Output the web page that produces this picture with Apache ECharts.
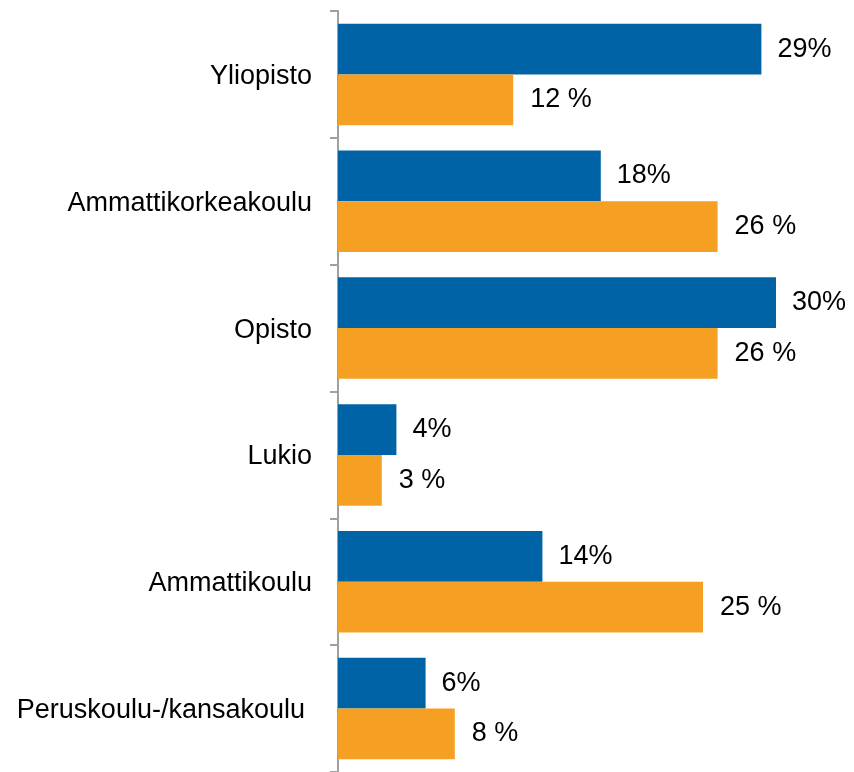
<!DOCTYPE html>
<html>
<head>
<meta charset="utf-8">
<script src="https://cdn.jsdelivr.net/npm/echarts@6/dist/echarts.min.js"></script>
<style>
  html, body { margin: 0; padding: 0; background: #ffffff; }
  #chart { width: 854px; height: 772px; }
</style>
</head>
<body>
<div id="chart"></div>
<script>
// Education level categories, top to bottom
const categories = ['Yliopisto', 'Ammattikorkeakoulu', 'Opisto', 'Lukio', 'Ammattikoulu', 'Peruskoulu-/kansakoulu'];
// Share per level (%), first group (blue) and second group (orange)
const blueValues = [29, 18, 30, 4, 14, 6];
const orangeValues = [12, 26, 26, 3, 25, 8];

const chart = echarts.init(document.getElementById('chart'), null, { renderer: 'canvas' });

const labelFont = { fontFamily: 'Liberation Sans, Arial, sans-serif', fontSize: 27, color: '#000000' };

chart.setOption({
  animation: false,
  backgroundColor: '#ffffff',
  grid: { left: 338, top: 11, width: 511, height: 764, containLabel: false },
  xAxis: {
    type: 'value', min: 0, max: 35,
    show: false
  },
  yAxis: {
    type: 'category',
    data: categories,
    inverse: true,
    axisLine: { show: true, lineStyle: { color: '#A0A0A0', width: 2 } },
    axisTick: { show: true, length: 8, lineStyle: { color: '#A0A0A0', width: 2 } },
    axisLabel: {
      margin: 26,
      ...labelFont,
      lineHeight: 30,
      padding: [4, 0, 0, 0],
      formatter: function (v) {
        return v.length > 20 ? '{long|' + v + '}' : v;
      },
      rich: { long: { ...labelFont, padding: [0, 7, 0, 0] } }
    },
    splitLine: { show: false }
  },
  series: [
    {
      type: 'bar',
      data: blueValues,
      barGap: '0%',
      barCategoryGap: '20%',
      itemStyle: { color: '#0063A6' },
      label: {
        show: true, position: 'right', distance: 16,
        ...labelFont,
        padding: [7, 0, 0, 0],
        formatter: p => p.value + '%'
      }
    },
    {
      type: 'bar',
      data: orangeValues,
      barGap: '0%',
      barCategoryGap: '20%',
      itemStyle: { color: '#F5A022' },
      label: {
        show: true, position: 'right', distance: 17,
        ...labelFont,
        padding: [7, 0, 0, 0],
        formatter: p => p.value + ' %'
      }
    }
  ]
});
</script>
</body>
</html>
